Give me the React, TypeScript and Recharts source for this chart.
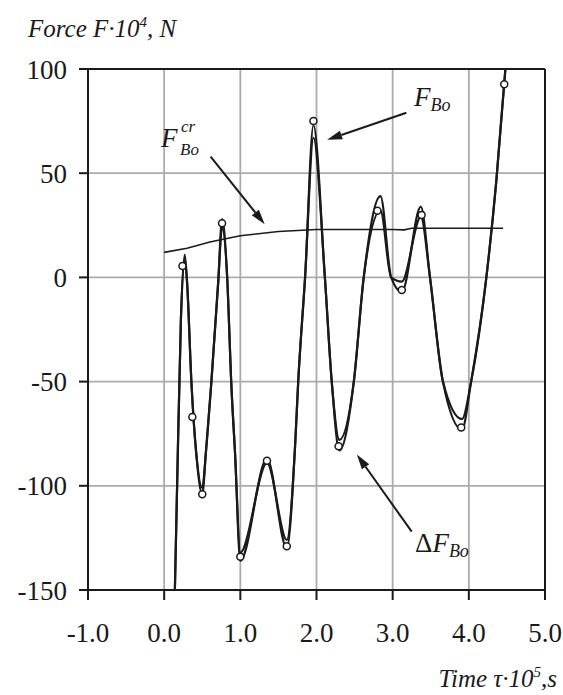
import { ComposedChart, Line, Scatter, XAxis, YAxis, CartesianGrid, ReferenceLine } from 'recharts'

// time, 10^5 s
const fboT = [0.12, 0.17, 0.22, 0.27, 0.3, 0.36, 0.42, 0.5, 0.55, 0.62, 0.71, 0.76, 0.83, 0.88, 0.93, 1.0, 1.35, 1.61, 1.72, 1.76, 1.85, 1.96, 2.11, 2.2, 2.3, 2.49, 2.62, 2.84, 2.98, 3.12, 3.37, 3.49, 3.66, 3.91, 4.03, 4.23, 4.36, 4.48]
// F_Bo (outer curve) and ΔF_Bo (inner curve), force 10^4 N
const fboF = [-185, -100, -20, 11, -2, -52, -84, -104, -83, -50, -2, 28, -2, -50, -84, -136, -87, -130, -80, -50, 0, 73, 0, -50, -83, -50, 0, 39, 0, -7, 34, 0, -50, -73, -50, 0, 46, 100]
const dfboF = [-185, -100, -20, 8, -2, -52, -84, -101, -83, -50, -2, 24, -2, -50, -84, -132, -89, -126, -80, -50, 0, 67, 0, -50, -78, -50, 0, 32, 0, -2, 29, 0, -50, -68, -50, 0, 46, 100]

// critical force F_Bo^cr
const crT = [0, 0.3, 0.6, 1.0, 1.5, 2.0, 2.5, 3.0, 3.15, 3.25, 3.6, 4.45]
const crF = [12, 14, 17, 20, 22, 23, 23, 23, 22.8, 23.6, 23.6, 23.6]

// calculated points (circles)
const markT = [0.24, 0.37, 0.5, 0.76, 1.0, 1.35, 1.61, 1.96, 2.29, 2.8, 3.12, 3.38, 3.9, 4.465]
const markF = [5.5, -67, -104, 26, -134, -88, -129, 75, -81, 32, -6, 30, -72, 92.7]

const xTicks = [-1, 0, 1, 2, 3, 4, 5]
const yTicks = [-150, -100, -50, 0, 50, 100]

// annotation arrows: [tail, head] in data coords
const arrowFbo = [{ x: 3.18, y: 79 }, { x: 2.14, y: 66 }]
const arrowCr = [{ x: 0.61, y: 58 }, { x: 1.32, y: 25.5 }]
const arrowDfbo = [{ x: 3.25, y: -122 }, { x: 2.53, y: -85 }]

const fbo = fboT.map((t, i) => ({ t, f: fboF[i] }))
const dfbo = fboT.map((t, i) => ({ t, f: dfboF[i] }))
const cr = crT.map((t, i) => ({ t, f: crF[i] }))
const marks = markT.map((t, i) => ({ t, f: markF[i] }))

const serif = '"Liberation Serif", "DejaVu Serif", serif'

function Arrow(props: any) {
  const { x1, y1, x2, y2 } = props
  const dx = x2 - x1
  const dy = y2 - y1
  const len = Math.sqrt(dx * dx + dy * dy)
  const ux = dx / len
  const uy = dy / len
  const hl = 15
  const hw = 4.5
  const bx = x2 - ux * hl
  const by = y2 - uy * hl
  return (
    <g>
      <line x1={x1} y1={y1} x2={bx} y2={by} stroke="#1a1a1a" strokeWidth={2} />
      <polygon
        points={`${x2},${y2} ${bx - uy * hw},${by + ux * hw} ${bx + uy * hw},${by - ux * hw}`}
        fill="#1a1a1a"
      />
    </g>
  )
}

function Ring(props: any) {
  const { cx, cy } = props
  return <circle cx={cx} cy={cy} r={3.5} fill="#fff" stroke="#1a1a1a" strokeWidth={1.5} />
}

export default function App() {
  return (
    <div style={{ position: 'absolute', left: 0, top: 0, width: 563, height: 695, background: '#fff' }}>
      <ComposedChart width={563} height={695} margin={{ top: 69, right: 18, left: 0, bottom: 0 }}>
        <CartesianGrid stroke="#ababab" strokeWidth={1.8} />
        <XAxis
          dataKey="t"
          type="number"
          domain={[-1, 5]}
          ticks={xTicks}
          allowDataOverflow
          height={105}
          stroke="#1a1a1a"
          strokeWidth={2}
          tickSize={10}
          tickMargin={23}
          tick={{ fill: '#1a1a1a', fontSize: 27, fontFamily: serif }}
          tickFormatter={(v: number) => v.toFixed(1)}
        />
        <YAxis
          dataKey="f"
          type="number"
          domain={[-150, 100]}
          ticks={yTicks}
          allowDataOverflow
          width={88}
          stroke="#1a1a1a"
          strokeWidth={2}
          tickSize={9}
          tickMargin={12}
          tick={{ fill: '#1a1a1a', fontSize: 27, fontFamily: serif }}
        />
        <ReferenceLine y={100} stroke="#1a1a1a" strokeWidth={2} />
        <ReferenceLine x={5} stroke="#1a1a1a" strokeWidth={2} />
        <Line data={cr} dataKey="f" type="linear" stroke="#1a1a1a" strokeWidth={1.6} dot={false} activeDot={false} isAnimationActive={false} />
        <Line data={dfbo} dataKey="f" type="monotone" stroke="#1a1a1a" strokeWidth={2.2} dot={false} activeDot={false} isAnimationActive={false} />
        <Line data={fbo} dataKey="f" type="monotone" stroke="#1a1a1a" strokeWidth={2.2} dot={false} activeDot={false} isAnimationActive={false} />
        <Scatter data={marks} dataKey="f" shape={Ring} isAnimationActive={false} />
        <ReferenceLine segment={arrowFbo} shape={Arrow} ifOverflow="visible" />
        <ReferenceLine segment={arrowCr} shape={Arrow} ifOverflow="visible" />
        <ReferenceLine segment={arrowDfbo} shape={Arrow} ifOverflow="visible" />
      </ComposedChart>
      <svg width={563} height={695} style={{ position: 'absolute', left: 0, top: 0, pointerEvents: 'none' }}>
        <g fontFamily={serif} fill="#1a1a1a">
          <text x={28} y={37} fontSize={25} fontStyle="italic">
            Force F·10<tspan fontSize={15} dy={-10}>4</tspan><tspan dy={10}>, N</tspan>
          </text>
          <text x={557} y={687} fontSize={25} fontStyle="italic" textAnchor="end">
            Time τ·10<tspan fontSize={15} dy={-10}>5</tspan><tspan dy={10}>,s</tspan>
          </text>
          <text x={414} y={106} fontSize={27} fontStyle="italic">
            F<tspan fontSize={18} dy={5}>Bo</tspan>
          </text>
          <text x={161} y={147} fontSize={27} fontStyle="italic">F</text>
          <text x={181} y={132} fontSize={17} fontStyle="italic">cr</text>
          <text x={180} y={155} fontSize={17} fontStyle="italic">Bo</text>
          <text x={415} y={552} fontSize={27}>
            Δ<tspan fontStyle="italic">F</tspan><tspan fontSize={18} fontStyle="italic" dy={5}>Bo</tspan>
          </text>
        </g>
      </svg>
    </div>
  )
}
